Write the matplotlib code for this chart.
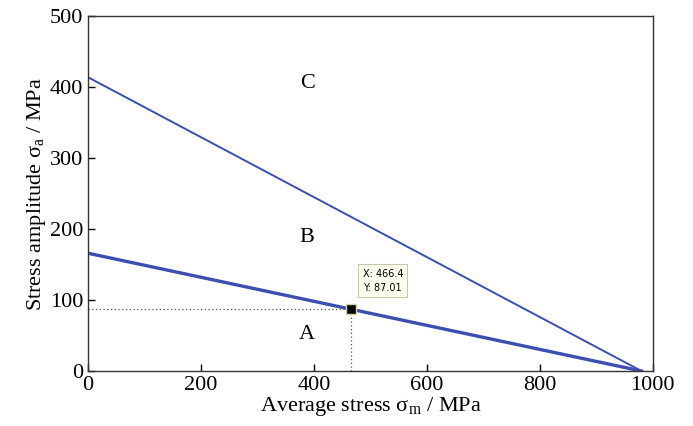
import numpy as np
import matplotlib.pyplot as plt

plt.rcParams['font.family'] = ['Liberation Serif', 'DejaVu Serif']
plt.rcParams['mathtext.fontset'] = 'stix'

# Goodman-type limit lines (sigma_m, sigma_a)
upper_x = [0, 980]
upper_y = [414, 0]
lower_x = [0, 980]
lower_y = [166, 0]

# data tip point
tip_x = 466.4
tip_y = 87.01

region_labels = ["C", "B", "A"]
region_x = [388, 388, 388]
region_y = [405, 188, 51]

fig = plt.figure(figsize=(6.93, 4.26), dpi=100)
ax = fig.add_axes([0.127, 0.129, 0.815, 0.833])

line_color = "#3a4fb0"
ax.plot(upper_x, upper_y, color=line_color, linewidth=1.4)
ax.plot(lower_x, lower_y, color=line_color, linewidth=2.4)

# dotted guide lines to the data tip
ax.plot([0, tip_x], [tip_y, tip_y], color="#555555", linestyle=(0, (1, 2)), linewidth=0.9)
ax.plot([tip_x, tip_x], [0, tip_y], color="#555555", linestyle=(0, (1, 2)), linewidth=0.9)
ax.plot(tip_x, tip_y, marker="s", color="black", markersize=7, markeredgecolor="#d8d8b0")

ax.annotate(f"X: {tip_x}\nY: {tip_y}", xy=(tip_x, tip_y), xytext=(8, 12),
            textcoords="offset points", fontsize=7, family="DejaVu Sans",
            va="bottom", ha="left", linespacing=1.5,
            bbox=dict(boxstyle="square,pad=0.45", fc="#fffff0", ec="#c8c8a8", lw=0.8))

for lab, x, y in zip(region_labels, region_x, region_y):
    ax.text(x, y, lab, fontsize=16, ha="center", va="center")

ax.set_xlim(0, 1000)
ax.set_ylim(0, 500)
ax.set_xticks(np.arange(0, 1001, 200))
ax.set_yticks(np.arange(0, 501, 100))
ax.tick_params(direction="in", length=5, labelsize=16, width=1, top=False, right=False)
for s in ax.spines.values():
    s.set_linewidth(1.0)
    s.set_color("#333333")

ax.set_xlabel(r"Average stress $\mathregular{\sigma_m}$ / MPa", fontsize=16, labelpad=0)
ax.set_ylabel(r"Stress amplitude $\mathregular{\sigma_a}$ / MPa", fontsize=16, labelpad=1)

plt.savefig("out.png", dpi=100)
